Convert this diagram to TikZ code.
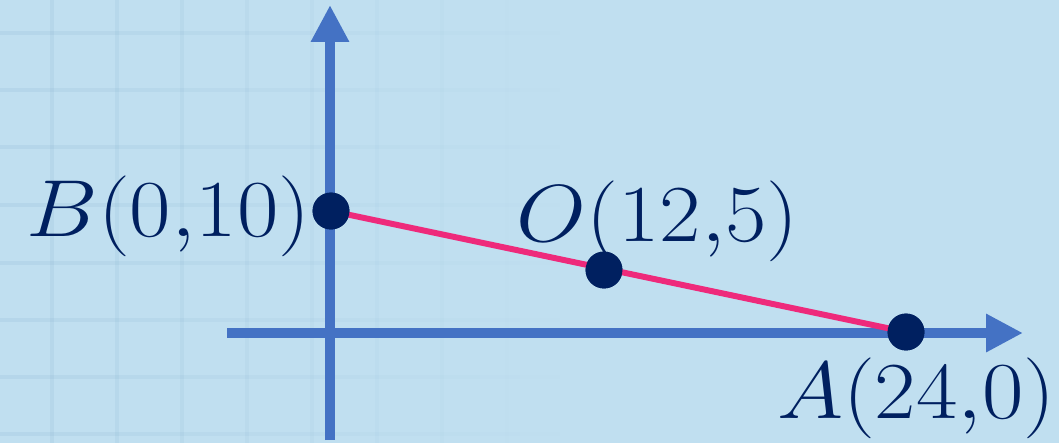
\documentclass[tikz,border=0pt]{standalone}
\usetikzlibrary{arrows.meta}
\definecolor{bgc}{HTML}{C0DFF0}
\definecolor{gridc}{HTML}{8FB8D4}
\definecolor{axisc}{HTML}{4472C4}
\definecolor{segc}{HTML}{EE2A7B}
\definecolor{navy}{HTML}{002060}
\tikzset{
  axis/.style={axisc, line width=10.5pt*0.5669, -{Triangle[length=37*0.5669pt, width=36*0.5669pt]}},
  pt/.style={circle, fill=navy, inner sep=0pt, minimum size=37*0.5669pt},
  lbl/.style={text=navy, font=\Huge, xscale=2.06, yscale=1.85, inner sep=0pt},
  seg/.style={segc, line width=6*0.5669pt},
}
\begin{document}
\begin{tikzpicture}[x=0.02cm, y=-0.02cm]
\fill[bgc] (0,0) rectangle (1059,443);
\useasboundingbox (0,0) rectangle (1059,443);
% faint grid, fading to the right
\foreach \x in {52,117,182,247,312,377,442,507} {
  \pgfmathsetmacro{\op}{max(0,0.22*(1-\x/560))}
  \draw[gridc, line width=2.5pt, opacity=\op] (\x,0) -- (\x,443);
}
\foreach \y in {33,90,147,205,263,320,377,434} {
  \foreach \s in {0,40,...,520} {
    \pgfmathsetmacro{\op}{max(0,0.22*(1-(\s+20)/580))}
    \draw[gridc, line width=2.5pt, opacity=\op] (\s,\y) -- (\s+40,\y);
  }
}
% axes
\coordinate (ys) at (330,440);
\coordinate (ye) at (330,5);
\coordinate (xs) at (227,333);
\coordinate (xe) at (1023,333);
\draw[axis] (ys) -- (ye);
\draw[axis] (xs) -- (xe);
% points
\node[pt] (B) at (331,211) {};
\node[pt] (O) at (604,270) {};
\node[pt] (A) at (906,332) {};
\draw[seg] (B.center) -- (A.center);
\node[pt] at (B) {};
\node[pt] at (O) {};
\node[pt] at (A) {};
% labels
\node[lbl, anchor=base east] (Bl) at (311,236) {$B(0{,}10)$};
\node[lbl, anchor=base west] (Ol) at (516,241) {$O(12{,}5)$};
\node[lbl, anchor=base east] (Al) at (1056,418) {$A(24{,}0)$};
\end{tikzpicture}
\end{document}
